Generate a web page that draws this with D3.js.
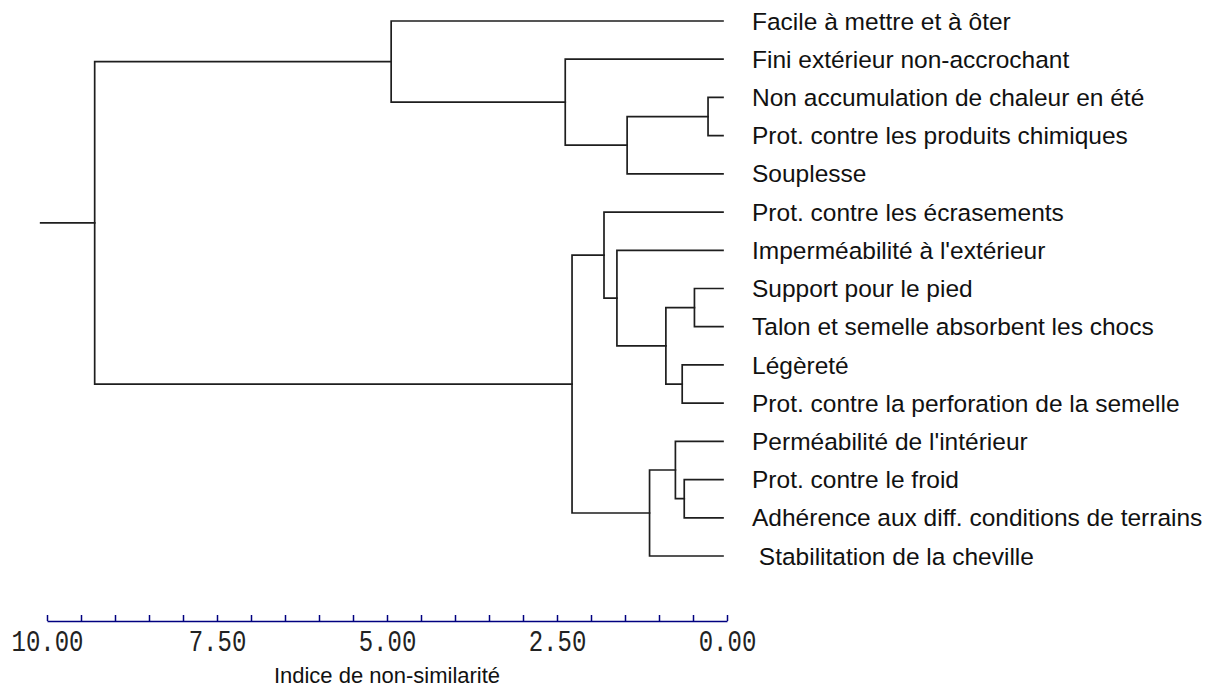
<!DOCTYPE html>
<html>
<head>
<meta charset="utf-8">
<script src="https://cdn.jsdelivr.net/npm/d3@7"></script>
<style>
  body { margin: 0; background: #fff; }
  svg { display: block; }
</style>
</head>
<body>
<svg id="chart" width="1215" height="690"></svg>
<script>
// Leaf labels, in display order (top to bottom)
const labels = [
  "Facile à mettre et à ôter",
  "Fini extérieur non-accrochant",
  "Non accumulation de chaleur en été",
  "Prot. contre les produits chimiques",
  "Souplesse",
  "Prot. contre les écrasements",
  "Imperméabilité à l'extérieur",
  "Support pour le pied",
  "Talon et semelle absorbent les chocs",
  "Légèreté",
  "Prot. contre la perforation de la semelle",
  "Perméabilité de l'intérieur",
  "Prot. contre le froid",
  "Adhérence aux diff. conditions de terrains",
  " Stabilitation de la cheville"
];

// Agglomeration steps: [child A, child B, dissimilarity].
// Indices below labels.length are leaves; index labels.length + k is merge k.
const merges = [
  [2, 3, 0.22],
  [7, 8, 0.42],
  [12, 13, 0.57],
  [9, 10, 0.60],
  [11, 17, 0.70],
  [16, 18, 0.84],
  [19, 14, 1.08],
  [15, 4, 1.41],
  [6, 20, 1.56],
  [5, 23, 1.75],
  [24, 21, 2.22],
  [1, 22, 2.32],
  [0, 26, 4.88],
  [27, 25, 9.24]
];

const tickValues = d3.range(0, 10.001, 0.5);
const labelledTicks = [0, 2.5, 5, 7.5, 10];
const axisTitle = "Indice de non-similarité";

const svg = d3.select("#chart");
const x = d3.scaleLinear().domain([10, 0]).range([47, 727]);
const treeShift = -4;          // branch tips stop just short of the 0.00 tick
const rootStub = 54;           // length of the trunk line left of the root

function build(id) {
  if (id < labels.length) return { id, name: labels[id], height: 0 };
  const [a, b, h] = merges[id - labels.length];
  return { id, height: h, children: [build(a), build(b)] };
}

const root = d3.hierarchy(build(labels.length + merges.length - 1));
const leaves = root.leaves();
const y = d3.scalePoint().domain(d3.range(leaves.length)).range([21, 556]);
leaves.forEach((l, i) => { l.order = i; });

root.eachAfter(n => {
  n.px = x(n.data.height) + treeShift;
  if (n.children) {
    n.py = (n.children[0].py + n.children[n.children.length - 1].py) / 2;
  } else {
    n.py = y(n.order);
  }
});

// Elbow links
const tree = svg.append("g")
  .attr("fill", "none")
  .attr("stroke", "#1e1e1e")
  .attr("stroke-width", 1.7)
  .attr("stroke-linecap", "square");

root.descendants().filter(n => n.children).forEach(n => {
  const p = d3.path();
  const first = n.children[0], last = n.children[n.children.length - 1];
  p.moveTo(n.px, first.py);
  p.lineTo(n.px, last.py);
  n.children.forEach(c => {
    p.moveTo(n.px, c.py);
    p.lineTo(c.px, c.py);
  });
  tree.append("path").attr("d", p.toString());
});

tree.append("path")
  .attr("d", `M${root.px - rootStub},${root.py}H${root.px}`);

// Leaf labels
svg.append("g")
  .selectAll("text")
  .data(leaves)
  .join("text")
  .attr("x", x(0) + 25)
  .attr("y", d => d.py)
  .attr("dy", "0.35em")
  .style("white-space", "pre")
  .attr("font-family", "'Liberation Sans', Arial, sans-serif")
  .attr("font-size", 24.5)
  .attr("fill", "#111")
  .text(d => d.data.name);

// Dissimilarity ruler
const axis = d3.axisBottom(x)
  .tickValues(tickValues)
  .tickSizeInner(-6)
  .tickSizeOuter(0)
  .tickPadding(7)
  .tickFormat(d => labelledTicks.includes(d) ? d3.format(".2f")(d) : "");

const ag = svg.append("g")
  .attr("transform", "translate(0,621)")
  .call(axis);
ag.select(".domain").attr("stroke", "#000080").attr("stroke-width", 1.5);
ag.selectAll(".tick line").attr("stroke", "#000080").attr("stroke-width", 1.5);
ag.selectAll(".tick text")
  .attr("fill", "#222")
  .attr("font-family", "'Liberation Mono', 'DejaVu Sans Mono', monospace")
  .attr("font-size", 24)
  .attr("transform", "scale(1,1.25)");

svg.append("text")
  .attr("x", x(5))
  .attr("y", 683)
  .attr("text-anchor", "middle")
  .attr("font-family", "'Liberation Sans', Arial, sans-serif")
  .attr("font-size", 22)
  .attr("fill", "#111")
  .text(axisTitle);
</script>
</body>
</html>
